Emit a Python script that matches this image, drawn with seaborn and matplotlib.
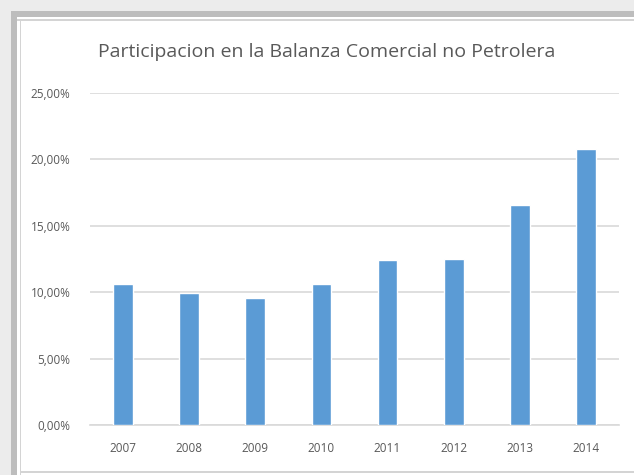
import matplotlib
matplotlib.use("Agg")
import matplotlib.pyplot as plt
import matplotlib.patches as mpatches
from matplotlib.ticker import FuncFormatter
import pandas as pd
import seaborn as sns

# data
years = ["2007", "2008", "2009", "2010", "2011", "2012", "2013", "2014"]
share = [10.6, 9.92, 9.55, 10.62, 12.4, 12.52, 16.6, 20.75]
y_ticks = [0, 5, 10, 15, 20, 25]

title = "Participacion en la Balanza Comercial no Petrolera"
bar_color = "#5B9BD5"
text_gray = "#595959"
grid_gray = "#D9D9D9"

df = pd.DataFrame({"year": years, "share": share})

sns.set_theme(style="white")
plt.rcParams["font.family"] = ["Open Sans", "DejaVu Sans"]

W, H = 634, 475
fig = plt.figure(figsize=(W / 100, H / 100), dpi=100)
fig.patch.set_facecolor("white")


def px_rect(x0, y0, x1, y1, color):
    # rectangle given in figure pixels (y from top)
    fig.patches.append(mpatches.Rectangle(
        (x0 / W, 1 - y1 / H), (x1 - x0) / W, (y1 - y0) / H,
        transform=fig.transFigure, facecolor=color, edgecolor="none", zorder=0))


# screenshot frame / shadow around the chart
px_rect(0, 0, W, 11, "#ECECEC")
px_rect(0, 0, 11, H, "#ECECEC")
px_rect(11, 11, W, 17, "#BDBDBD")
px_rect(11, 11, 17, H, "#BDBDBD")
px_rect(17, 19, W, 20.5, "#D4D4D4")
px_rect(19.5, 19, 21, H, "#D4D4D4")
px_rect(21, 471, W, 472.5, "#D4D4D4")

ax = fig.add_axes([90 / W, 1 - 425 / H, (619 - 90) / W, (425 - 93) / H])
ax.set_facecolor("none")

sns.barplot(data=df, x="year", y="share", color=bar_color, width=0.3,
            saturation=1, ax=ax, zorder=3)

ax.set_ylim(0, 25)
ax.set_yticks(y_ticks)
ax.yaxis.set_major_formatter(FuncFormatter(lambda v, p: f"{v:.2f}%".replace(".", ",")))
ax.grid(axis="y", color=grid_gray, linewidth=1.2, zorder=0)
ax.set_axisbelow(True)
for side in ["top", "right", "left"]:
    ax.spines[side].set_visible(False)
ax.spines["bottom"].set_color(grid_gray)
ax.spines["bottom"].set_linewidth(1.2)

ax.tick_params(axis="both", length=0, labelsize=8.5, labelcolor=text_gray)
ax.tick_params(axis="y", pad=14)
ax.tick_params(axis="x", pad=12)
ax.set_xlabel("")
ax.set_ylabel("")

fig.text(327 / W, 1 - 52 / H, title, ha="center", va="center",
         fontsize=14, color=text_gray)

fig.savefig("out.png", dpi=100)
